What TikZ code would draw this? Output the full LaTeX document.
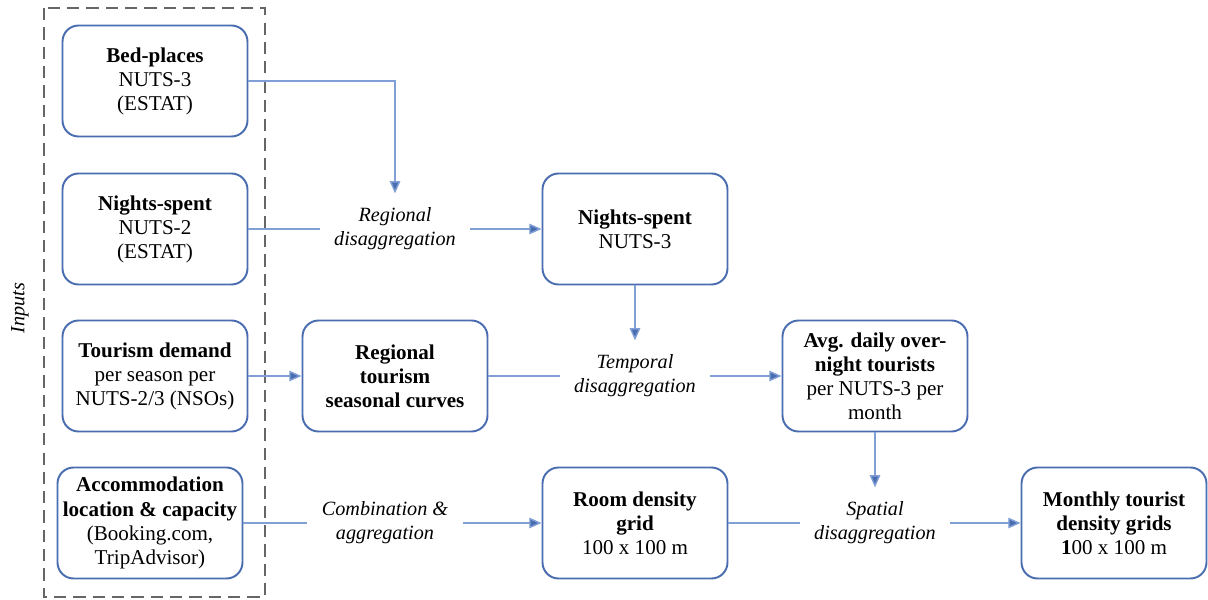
\documentclass[tikz,border=0pt]{standalone}
\usepackage{fontspec}
\setmainfont{Liberation Serif}
\usepackage{tikz}
\usetikzlibrary{arrows.meta}
\definecolor{boxblue}{HTML}{4A6DB0}
\definecolor{lineblue}{HTML}{7F9FD6}
\tikzstyle{stepbox}=[draw=boxblue,line width=1.1pt,rounded corners=0.32cm,fill=white,
  minimum width=3.7cm,minimum height=2.22cm,align=center,inner sep=2pt,
  font=\fontsize{12}{13.7}\selectfont]
\tikzstyle{method}=[fill=white,align=center,inner sep=8pt,
  font=\itshape\fontsize{11.5}{13.7}\selectfont]
\tikzstyle{flow}=[draw=lineblue,line width=0.8pt,-{Triangle[length=7pt,width=6pt,fill=boxblue]}]
\tikzstyle{plain}=[draw=lineblue,line width=0.8pt]

\begin{document}
\begin{tikzpicture}[x=0.02cm,y=-0.02cm]
\useasboundingbox (0,0) rectangle (1208,599);
% inputs
\draw[gray!80!black,dashed,line width=0.8pt,dash pattern=on 7pt off 4pt] (44,8) rectangle (265,597);
\node[rotate=90,font=\itshape\fontsize{11.5}{13}\selectfont] (inputs) at (20,308) {Inputs};
\node[stepbox] (bed) at (155,81) {\textbf{Bed-places}\\NUTS-3\\(ESTAT)};
\node[stepbox] (ntwo) at (155,229) {\textbf{Nights-spent}\\NUTS-2\\(ESTAT)};
\node[stepbox] (demand) at (155,376) {\textbf{Tourism demand}\\per season per\\NUTS-2/3 (NSOs)};
\node[stepbox] (accom) at (150,523) {\textbf{Accommodation}\\\textbf{location \& capacity}\\(Booking.com,\\TripAdvisor)};
% processing
\node[stepbox] (curves) at (395,376) {\textbf{Regional}\\\textbf{tourism}\\\textbf{seasonal curves}};
\node[stepbox] (nthree) at (635,229) {\textbf{Nights-spent}\\NUTS-3};
\node[stepbox] (avg) at (875,376) {\textbf{Avg. daily over-}\\\textbf{night tourists}\\per NUTS-3 per\\month};
\node[stepbox] (room) at (635,523) {\textbf{Room density}\\\textbf{grid}\\100 x 100 m};
\node[stepbox] (monthly) at (1114,523) {\textbf{Monthly tourist}\\\textbf{density grids}\\\textbf{1}00 x 100 m};
% methods
\node[method] (regional) at (395,229) {Regional\\disaggregation};
\node[method] (temporal) at (635,376) {Temporal\\disaggregation};
\node[method] (combine) at (385,523) {Combination \&\\aggregation};
\node[method] (spatial) at (875,523) {Spatial\\disaggregation};
% connectors
\draw[flow] (bed.east) -| (regional.north);
\draw[plain] (ntwo.east) -- (regional.west);
\draw[flow] (regional.east) -- (nthree.west);
\draw[flow] (nthree.south) -- (temporal.north);
\draw[flow] (demand.east) -- (curves.west);
\draw[plain] (curves.east) -- (temporal.west);
\draw[flow] (temporal.east) -- (avg.west);
\draw[flow] (avg.south) -- (spatial.north);
\draw[plain] (accom.east) -- (combine.west);
\draw[flow] (combine.east) -- (room.west);
\draw[plain] (room.east) -- (spatial.west);
\draw[flow] (spatial.east) -- (monthly.west);
\end{tikzpicture}
\end{document}
